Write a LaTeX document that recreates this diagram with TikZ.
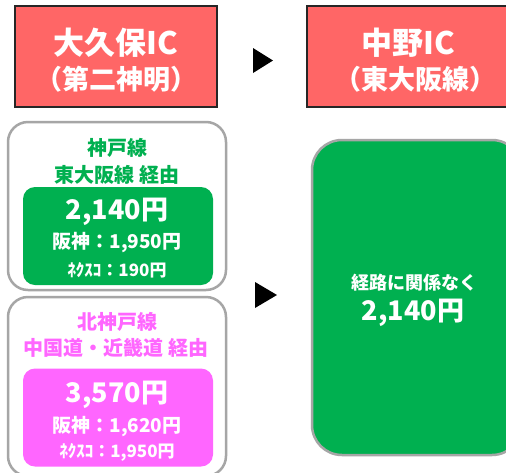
\documentclass[tikz,border=0pt]{standalone}
\usepackage{fontspec}
\setmainfont{Noto Sans CJK JP}
\usetikzlibrary{positioning}
\definecolor{icred}{HTML}{FF6666}
\definecolor{routegreen}{HTML}{00B050}
\definecolor{routepink}{HTML}{FF66FF}
\definecolor{framegray}{HTML}{A6A6A6}
\tikzset{
  icbox/.style={draw=black!85, line width=2pt, fill=icred, minimum height=101pt},
  routeframe/.style={draw=framegray, line width=2.5pt, fill=white, rounded corners=20pt, minimum width=218pt},
  pricebox/.style={rounded corners=12pt, minimum width=190pt, minimum height=98pt},
  pointer/.style={fill=black},
  wtext/.style={text=white, font=\bfseries, inner sep=0pt},
  ctext/.style={font=\bfseries, inner sep=0pt},
}
\newcommand{\fs}[1]{\fontsize{#1}{#1}\selectfont}

\begin{document}
\begin{tikzpicture}[x=1pt, y=-1pt]
  \clip (0,0) rectangle (506,472);
  \fill[white] (0,0) rectangle (506,472);

  % interchanges
  \node[icbox, minimum width=202pt] (okubo) at (116,56) {};
  \node[icbox, minimum width=214pt] (nakano) at (414,56) {};
  \node[wtext] (okuboname) at (116,43) {\fs{31}大久保IC};
  \node[wtext] (okubosub) at (116,79) {\fs{27}（第二神明）};
  \node[wtext] (nakanoname) at (408,43) {\fs{31}中野IC};
  \node[wtext] (nakanosub) at (415,79) {\fs{27}（東大阪線）};
  \fill[pointer] (253,48) -- (273,60.5) -- (253,73) -- cycle;

  % via Kobe line
  \node[routeframe, minimum height=168pt] (kobe) at (117,206) {};
  \node[ctext, text=routegreen] (kobetitle) at (117,148) {\fs{20}神戸線};
  \node[ctext, text=routegreen] (kobevia) at (117,175) {\fs{20}東大阪線 経由};
  \node[pricebox, fill=routegreen] (kobeprice) at (118,236) {};
  \node[wtext] (kobetotal) at (117,212) {\fs{27}2,140円};
  \node[wtext] (kobehanshin) at (117,243) {\fs{19}阪神：1,950円};
  \node[wtext] (kobenexco) at (117,270) {\fs{17}ﾈｸｽｺ：190円};

  % via Kita-Kobe line
  \node[routeframe, minimum height=179pt] (kita) at (117,386.5) {};
  \node[ctext, text=routepink] (kitatitle) at (117,322) {\fs{20}北神戸線};
  \node[ctext, text=routepink] (kitavia) at (116,348) {\fs{20}中国道・近畿道 経由};
  \node[pricebox, fill=routepink] (kitaprice) at (118,417.5) {};
  \node[wtext] (kitatotal) at (117,395) {\fs{27}3,570円};
  \node[wtext] (kitahanshin) at (117,427) {\fs{19}阪神：1,620円};
  \node[wtext] (kitanexco) at (117,452) {\fs{17}ﾈｸｽｺ：1,950円};

  % result
  \fill[pointer] (255,282) -- (277,295) -- (255,308) -- cycle;
  \node[routeframe, fill=routegreen, rounded corners=30pt, minimum width=210pt, minimum height=315pt] (result) at (417,297.5) {};
  \node[wtext] (resultnote) at (414,283) {\fs{18}経路に関係なく};
  \node[wtext] (resulttotal) at (413,313) {\fs{27}2,140円};
\end{tikzpicture}
\end{document}
